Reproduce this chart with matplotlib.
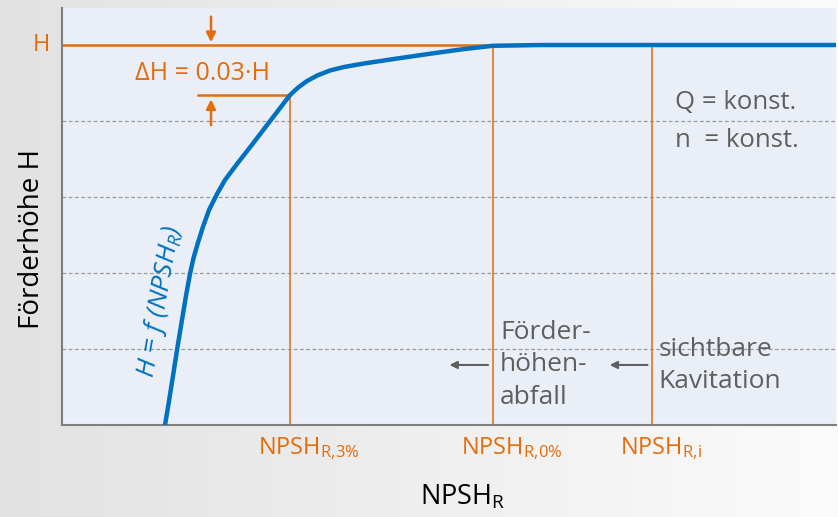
import matplotlib.pyplot as plt
import numpy as np
from matplotlib.colors import LinearSegmentedColormap

plt.rcParams['font.family'] = ['Open Sans', 'DejaVu Sans']
plt.rcParams['mathtext.fontset'] = 'custom'
plt.rcParams['mathtext.rm'] = 'Open Sans'
plt.rcParams['mathtext.it'] = 'Open Sans:italic'

ORANGE = '#e46c0a'
BLUE = '#0070c0'
GREY = '#5f5f5f'

# H = f(NPSH_R) at constant Q and n
npsh = [1.331, 1.380, 1.430, 1.486, 1.550, 1.602, 1.654, 1.700, 1.757, 1.822,
        1.900, 2.003, 2.106, 2.250, 2.429, 2.623, 2.946, 3.050, 3.165, 3.300,
        3.463, 3.650, 3.889, 4.328, 4.755, 5.181, 5.568, 6.200, 10.0]
head = [0.000, 0.300, 0.620, 0.987, 1.382, 1.700, 1.990, 2.200, 2.400, 2.610,
        2.830, 3.040, 3.224, 3.420, 3.654, 3.912, 4.342, 4.440, 4.526, 4.600,
        4.665, 4.712, 4.755, 4.822, 4.885, 4.945, 4.990, 5.000, 5.000]

H = 5.0
H_3 = 4.342          # head after the 3 % drop
npsh_3 = 2.946
npsh_0 = 5.568
npsh_i = 7.62
grid_levels = [1, 2, 3, 4]

fig = plt.figure(figsize=(8.38, 5.17), dpi=100)

# grey-to-white background
bg = fig.add_axes([0, 0, 1, 1], zorder=-10)
grad = np.linspace(0, 1, 256).reshape(1, -1)
bg.imshow(grad, aspect='auto', extent=[0, 1, 0, 1],
          cmap=LinearSegmentedColormap.from_list('bg', ['#e2e2e2', '#fbfbfb']))
bg.axis('off')

ax = fig.add_axes([62 / 838, 92 / 517, 774 / 838, 417 / 517])
ax.set_facecolor('#eaeff7')
ax.set_xlim(0, 10)
ax.set_ylim(0, 5.487)
ax.set_xticks([])
ax.set_yticks([])
for s in ['top', 'right']:
    ax.spines[s].set_visible(False)
for s in ['left', 'bottom']:
    ax.spines[s].set_color('#7f7f7f')
    ax.spines[s].set_linewidth(1.5)

for g in grid_levels:
    ax.axhline(g, color='#9a9a9a', lw=0.9, ls=(0, (3, 2)), zorder=1)

# reference lines
ax.plot([0, npsh_0], [H, H], color=ORANGE, lw=1.8, zorder=2)
ax.plot([1.76, npsh_3], [H_3, H_3], color=ORANGE, lw=1.8, zorder=2)
ax.vlines([npsh_3, npsh_0, npsh_i], 0, [H_3, H, H], color=ORANGE, lw=1.1, zorder=2)

# delta H arrows
arrow_x = 1.925
ax.annotate('', xy=(arrow_x, H), xytext=(arrow_x, 5.41),
            arrowprops=dict(arrowstyle='-|>', color=ORANGE, lw=1.8, mutation_scale=14))
ax.annotate('', xy=(arrow_x, H_3 - 0.02), xytext=(arrow_x, 3.91),
            arrowprops=dict(arrowstyle='-|>', color=ORANGE, lw=1.8, mutation_scale=14))

ax.plot(npsh, head, color=BLUE, lw=3.2, solid_capstyle='butt', solid_joinstyle='round', zorder=3)

ax.text(-0.15, H, 'H', color=ORANGE, fontsize=17, ha='right', va='center', clip_on=False)
ax.text(1.81, 4.63, 'ΔH = 0.03·H', color=ORANGE, fontsize=18, ha='center', va='center')

ax.text(1.27, 1.62, r'H = f (NPSH$_{R}$)', color=BLUE, fontsize=19, fontstyle='italic',
        rotation=80, ha='center', va='center')

ax.text(7.92, 4.24, 'Q = konst.', color=GREY, fontsize=18.5, ha='left', va='center')
ax.text(7.92, 3.75, 'n  = konst.', color=GREY, fontsize=18.5, ha='left', va='center')
ax.text(5.66, 0.79, 'Förder-\nhöhen-\nabfall', color=GREY, fontsize=19,
        ha='left', va='center', linespacing=1.38)
ax.text(7.71, 0.78, 'sichtbare\nKavitation', color=GREY, fontsize=19,
        ha='left', va='center', linespacing=1.38)

for x0, x1 in [(5.54, 4.97), (7.60, 7.04)]:
    ax.annotate('', xy=(x1, 0.79), xytext=(x0, 0.79),
                arrowprops=dict(arrowstyle='-|>', color=GREY, lw=1.5, mutation_scale=11))

for xv, sub in [(npsh_3, r'R{,}3\%'), (npsh_0, r'R{,}0\%'), (npsh_i, r'R{,}i')]:
    ax.text(xv - 0.41, -0.31, r'NPSH$_{\mathrm{' + sub + '}}$', color=ORANGE,
            fontsize=17, ha='left', va='center', clip_on=False)

fig.text(463 / 838, 1 - 497 / 517, r'NPSH$_{\mathrm{R}}$', color='black', fontsize=19.5,
         ha='center', va='center')
fig.text(32 / 838, 1 - 239 / 517, 'Förderhöhe H', color='black', fontsize=20,
         rotation=90, ha='center', va='center')

fig.savefig('out.png', dpi=100)
